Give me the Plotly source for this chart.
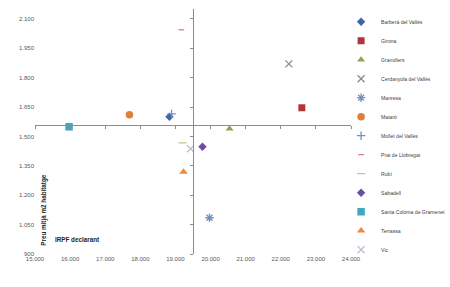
import plotly.graph_objects as go

# ---- data ----
cities = ["Barberà del Vallès", "Girona", "Granollers", "Cerdanyola del Vallès",
          "Manresa", "Mataró", "Mollet del Vallès", "Prat de Llobregat", "Rubí",
          "Sabadell", "Santa Coloma de Gramenet", "Terrassa", "Vic"]
irpf = [18830, 22600, 20540, 22230, 19970, 17690, 18890, 19170, 19200,
        19770, 15970, 19230, 19430]
preu = [1600, 1646, 1539, 1870, 1085, 1610, 1615, 2044, 1467,
        1447, 1549, 1319, 1437]

x_ticks = [15000, 16000, 17000, 18000, 19000, 20000, 21000, 22000, 23000, 24000]
y_ticks = [900, 1050, 1200, 1350, 1500, 1650, 1800, 1950, 2100]
x_range = [15000, 24000]
y_range = [900, 2150]
x_cross = 19490   # where the vertical axis crosses
y_cross = 1559    # where the horizontal axis crosses

symbols = ["diamond", "square", "triangle-up", "x-thin-open", "asterisk-open",
           "circle", "cross-thin-open", "line-ew-open", "line-ew-open",
           "diamond", "square", "triangle-up", "x-thin-open"]
colors = ["#3F65A8", "#B0353A", "#8AA84E", "#8A8A96", "#6F92C0",
          "#E07F3A", "#6F8FC8", "#D9807E", "#BFCB8E",
          "#6A4FA0", "#3FA7C0", "#F08A3C", "#B8C0D6"]
sizes = [6.5, 7, 7, 7, 7, 7.5, 6, 4, 6, 6.5, 7.5, 7.5, 7]

fig = go.Figure()
for name, xv, yv, sym, col, sz in zip(cities, irpf, preu, symbols, colors, sizes):
    fig.add_trace(go.Scatter(
        x=[xv], y=[yv], mode="markers", name=name,
        marker=dict(symbol=sym, color=col, size=sz,
                    line=dict(color=col, width=1.3 if "open" in sym else 0)),
    ))
# dummy trace so the crossing axes get drawn
fig.add_trace(go.Scatter(x=[], y=[], xaxis="x2", yaxis="y2", showlegend=False,
                         hoverinfo="skip"))

tick_font = dict(family="Liberation Sans, Arial, sans-serif", size=6, color="#595959")
axis_col = "#8C8C8C"

fig.update_layout(
    width=450, height=287,
    margin=dict(l=35, r=99, t=9, b=33, autoexpand=False),
    paper_bgcolor="white", plot_bgcolor="white",
    separators=",.",
    showlegend=True,
    legend=dict(xref="container", yref="container", x=0.758, y=0.975,
                xanchor="left", yanchor="top", itemwidth=30, maxheight=1.0,
                font=dict(family="Liberation Sans, Arial, sans-serif", size=5.1,
                          color="#404040"),
                bgcolor="rgba(0,0,0,0)"),
    xaxis=dict(range=x_range, domain=[0, 1], tickvals=x_ticks, tickformat=",.0f",
               showgrid=False, zeroline=False, showline=False, ticks="",
               tickfont=tick_font, fixedrange=True),
    yaxis=dict(range=y_range, domain=[0, 1], tickvals=y_ticks, tickformat=",.0f",
               showgrid=False, zeroline=False, showline=False, ticks="",
               tickfont=tick_font, fixedrange=True),
    xaxis2=dict(range=x_range, overlaying="x", anchor="free",
                position=(y_cross - y_range[0]) / (y_range[1] - y_range[0]),
                tickvals=x_ticks, showticklabels=False, ticks="outside",
                ticklen=3, tickcolor=axis_col, showline=True, linecolor=axis_col,
                linewidth=1, showgrid=False, zeroline=False),
    yaxis2=dict(range=y_range, overlaying="y", anchor="free",
                position=(x_cross - x_range[0]) / (x_range[1] - x_range[0]),
                tickvals=y_ticks, showticklabels=False, ticks="outside",
                ticklen=3, tickcolor=axis_col, showline=True, linecolor=axis_col,
                linewidth=1, showgrid=False, zeroline=False),
)

title_font = dict(family="Liberation Sans, Arial, sans-serif", size=6.3, color="#262626")
fig.add_annotation(text="<b>Preu mitjà m2 habitatge</b>", xref="paper", yref="paper",
                   x=0.028, y=0.18, xanchor="center", yanchor="middle",
                   textangle=-90, showarrow=False, font=title_font)
fig.add_annotation(text="<b>IRPF declarant</b>", xref="paper", yref="paper",
                   x=0.133, y=0.061, xanchor="center", yanchor="middle",
                   showarrow=False, font=title_font)

fig.write_html("out.html")
